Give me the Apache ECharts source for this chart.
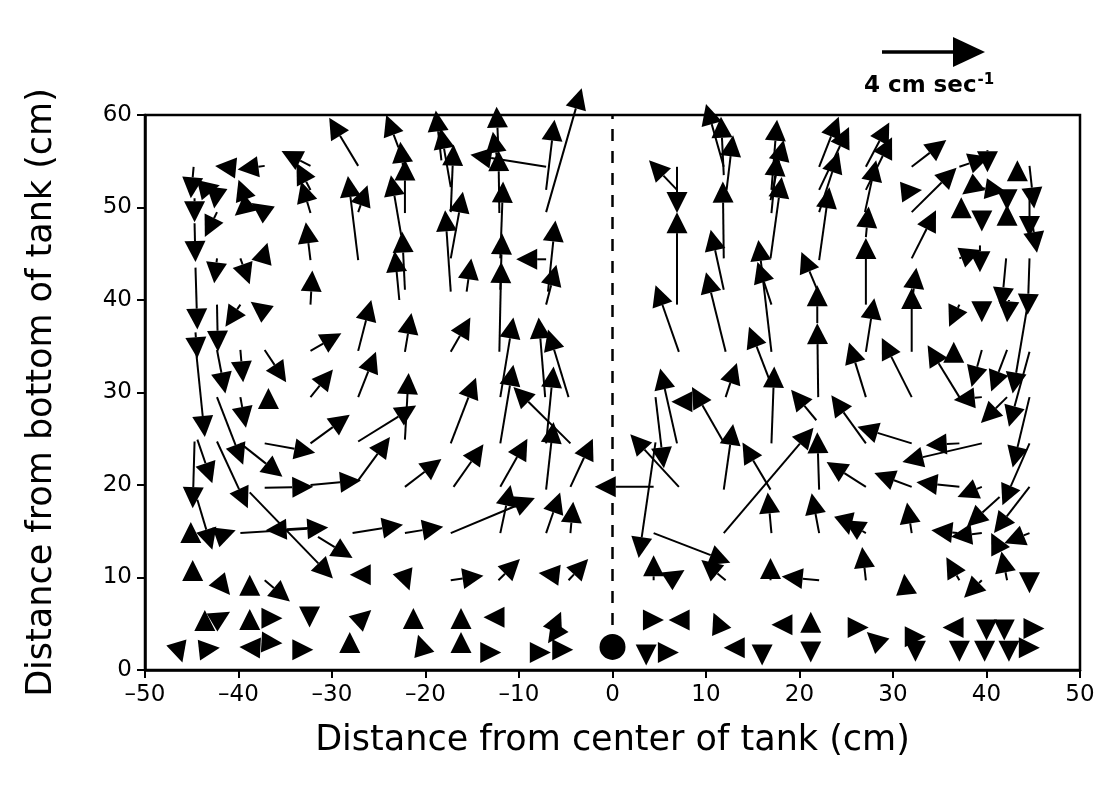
<!DOCTYPE html>
<html><head><meta charset="utf-8">
<script src="https://cdn.jsdelivr.net/npm/echarts@6/dist/echarts.min.js"></script>
<style>html,body{margin:0;padding:0;background:#fff}#c{width:1101px;height:787px}</style>
</head><body><div id="c"></div>
<script>
// Each vector: [tailX, tailY, tipX, tipY] in cm (axis units)
const xTicks = [-50,-40,-30,-20,-10,0,10,20,30,40,50];
const yTicks = [0,10,20,30,40,50,60];
const centerDot = [0, 2.5];
const dashedLine = [[0, 2.5], [0, 60]];
const legendLabel = '4 cm sec';

const vecTopLeft = [
 [-27.2,54.5,-30.3,59.7],[-32.3,54.5,-35.4,56.1],[-32.3,51.9,-33.8,54.8],[-32.3,49.4,-33.3,52.8],
 [-32.3,44.3,-32.8,48.4],[-27.2,44.3,-28.3,53.4],[-27.2,49.5,-26.2,52.4],[-44.8,54.4,-45.1,51.0],
 [-44.7,51.0,-44.7,48.4],[-44.7,48.3,-44.6,44.1],[-44.1,51.9,-42.0,52.4],[-40.5,54.3,-42.5,54.5],
 [-37.2,54.5,-40.1,54.1],[-39.2,50.8,-40.0,53.0],[-42.3,52.1,-42.6,49.9],[-37.2,49.5,-38.6,50.5],
 [-39.0,50.3,-40.4,49.1],[-42.3,49.5,-43.6,46.8],[-37.4,44.5,-36.9,46.2],[-42.3,44.5,-42.6,41.8],
 [-39.8,44.5,-38.8,41.7],
 [-22.9,56.5,-24.2,60.0],[-22.2,49.4,-22.2,55.2],[-22.4,54.4,-22.7,57.1],[-22.6,47.0,-23.7,53.5],
 [-22.2,41.1,-22.5,47.4],[-22.8,40.0,-23.3,45.3],[-18.3,55.1,-18.9,60.5],[-17.3,52.2,-18.4,58.6],
 [-17.3,49.5,-17.0,56.8],[-17.3,44.5,-16.0,51.7],[-17.3,40.9,-17.9,49.7],[-15.6,40.9,-15.1,44.5],
 [-12.2,56.2,-12.4,60.9],[-12.2,54.4,-12.8,58.2],[-7.1,54.4,-15.2,55.7],[-12.1,49.4,-12.2,56.2],
 [-12.0,44.5,-11.7,52.8],[-12.0,41.1,-11.8,47.2],[-12.1,34.4,-11.9,44.1],[-7.1,44.4,-10.3,44.4],
 [-7.1,51.9,-6.2,59.5],[-7.1,49.5,-3.3,62.9],[-6.9,40.9,-6.1,48.6],[-7.1,39.5,-6.0,43.8]
];
const vecTopRight = [
 [6.9,51.9,3.9,55.1],[6.9,54.4,6.9,49.4],[6.9,39.5,6.9,49.5],[11.9,54.4,10.0,61.2],
 [11.9,53.5,11.6,59.8],[12.2,51.9,12.9,57.8],[11.9,44.5,11.8,52.8],[11.9,41.1,10.5,47.6],
 [12.1,34.4,10.0,43.0],[17.0,51.9,17.6,59.5],[16.9,50.8,18.3,57.3],[17.0,49.4,17.6,55.7],
 [16.9,44.5,18.1,53.3],[17.0,34.4,15.6,46.5],[17.0,39.5,15.5,44.1],[22.1,54.4,24.2,59.8],
 [22.1,51.9,25.3,58.7],[22.1,49.5,24.2,56.0],[22.1,44.3,23.2,52.2],[21.9,41.1,20.2,45.2],
 [27.1,54.4,29.6,59.2],[27.1,51.9,29.9,57.6],[27.0,49.5,28.2,55.1],[27.1,46.8,27.4,50.1],
 [27.1,39.5,27.1,46.7],[32.0,54.4,35.7,57.3],[31.2,51.7,33.1,51.9],[32.0,49.5,36.8,54.3],
 [32.0,44.5,34.6,49.7],[32.0,39.5,32.5,43.5],[37.1,54.4,40.3,55.5],[40.1,56.2,40.1,53.8],
 [43.3,53.2,43.3,55.1],[44.6,54.5,45.1,49.9],[38.7,52.4,37.4,51.4],[37.3,49.5,37.3,51.1],
 [39.5,52.1,42.1,51.7],[42.2,51.4,42.2,49.7],[42.2,48.4,42.2,50.3],[44.6,51.6,44.6,46.8],
 [44.8,49.0,45.4,45.1],[39.5,49.5,39.5,47.4],[37.1,44.5,39.4,45.4],[39.3,45.9,39.3,43.0]
];
const vecMidLeft = [
 [-44.6,43.5,-44.4,36.8],[-44.6,36.5,-44.4,33.7],[-42.3,39.5,-42.2,34.4],[-39.8,39.5,-41.4,37.1],
 [-37.1,38.6,-38.7,39.8],[-32.3,39.5,-32.1,43.2],[-42.3,34.6,-41.4,29.9],[-39.8,34.6,-39.5,31.1],
 [-37.2,34.6,-34.9,31.1],[-36.8,29.0,-36.8,30.5],[-32.3,34.5,-29.0,36.4],[-32.3,29.5,-29.9,32.5],
 [-27.2,34.5,-25.8,40.0],[-27.2,29.5,-25.3,34.4],[-44.6,35.1,-43.6,25.2],[-39.8,29.5,-39.2,26.2],
 [-42.3,29.5,-39.5,22.2],[-44.4,24.9,-42.8,20.2],[-42.3,24.7,-39.0,17.5],[-39.8,24.5,-35.3,20.9],
 [-37.2,24.5,-31.8,23.5],[-32.3,24.5,-28.1,27.6],[-37.2,19.7,-32.0,19.8],[-32.3,20.0,-26.9,20.5],
 [-27.2,20.5,-23.8,25.2],[-22.2,34.4,-21.5,38.6],[-22.2,24.9,-21.8,32.1],[-27.2,24.7,-21.0,28.6],
 [-17.3,34.4,-15.2,38.1],[-12.0,29.5,-10.6,38.1],[-7.2,29.5,-7.9,38.1],[-4.7,29.5,-6.9,36.8],
 [-12.0,24.5,-10.6,33.0],[-17.3,24.5,-14.6,31.6],[-7.1,24.5,-6.3,32.8],[-4.5,24.5,-10.6,30.6],
 [-7.1,19.5,-6.3,26.8],[-22.2,19.8,-18.3,22.8],[-17.0,19.8,-13.8,24.4],[-12.0,19.8,-9.1,25.0],
 [-4.5,19.8,-2.1,25.0],[4.4,19.8,-1.9,19.8]
];
const vecMidRight = [
 [7.1,34.4,4.6,41.6],[21.9,37.5,21.9,41.6],[22.0,29.5,21.9,37.5],[17.0,30.8,14.6,37.1],
 [17.0,24.5,17.3,32.8],[12.1,29.5,13.3,33.2],[6.9,24.5,5.1,32.6],[8.1,29.0,6.3,29.0],
 [11.9,24.6,8.5,30.6],[21.8,27.0,19.1,30.3],[11.9,14.8,21.5,26.2],[22.1,19.5,21.9,25.7],
 [27.1,19.8,22.9,22.5],[27.1,24.5,23.4,29.7],[11.9,19.5,12.9,26.6],[16.9,19.5,13.9,24.6],
 [7.1,19.8,1.9,25.5],[4.6,29.5,5.5,21.8],[4.6,24.6,2.8,12.1],
 [27.1,34.4,28.0,40.2],[32.0,34.4,32.0,41.3],[27.1,29.5,25.3,35.4],[32.0,29.5,28.8,35.9],
 [37.1,29.5,33.7,35.1],[36.5,33.3,36.5,35.5],[37.1,39.5,36.0,37.1],[39.5,39.5,39.5,37.6],
 [42.1,44.5,41.6,39.1],[42.4,40.0,42.2,37.6],[44.6,44.5,44.4,38.4],[39.5,34.6,38.4,30.6],
 [42.2,34.6,40.5,30.1],[44.4,39.5,42.8,29.9],[39.5,29.5,36.5,29.2],[42.2,29.5,39.4,26.7],
 [44.6,34.4,42.4,26.3],[44.6,29.5,42.8,21.9],[32.0,24.5,26.2,26.3],[37.1,24.5,33.5,24.3],
 [39.5,24.5,31.0,22.5],[32.0,19.8,28.0,21.3],[37.1,19.8,32.5,20.3]
];
const vecBottomLeft = [
 [-44.7,24.7,-44.9,17.5],[-44.4,18.4,-42.8,13.0],[-41.7,14.6,-40.3,15.1],[-45.1,14.1,-45.1,16.0],
 [-31.7,15.4,-37.1,15.1],[-39.8,14.8,-30.4,15.4],[-31.5,14.4,-27.8,12.1],[-38.8,19.2,-29.9,9.9],
 [-26.2,10.3,-28.1,10.3],[-44.9,9.9,-44.9,11.9],[-42.2,9.7,-40.9,8.1],[-38.8,8.4,-38.8,10.3],
 [-37.2,9.7,-34.5,7.4],[-43.6,4.5,-43.6,6.5],[-42.4,5.4,-40.9,6.3],[-38.8,4.6,-38.8,6.6],
 [-36.9,5.6,-35.3,5.6],[-32.4,6.5,-32.4,4.6],[-27.2,5.2,-25.8,6.5],[-46.5,2.5,-46.0,0.8],
 [-43.8,2.2,-42.0,2.4],[-37.9,2.4,-39.9,2.5],[-37.1,3.0,-35.3,2.9],[-33.9,2.2,-32.0,2.2],
 [-28.1,2.2,-28.1,4.1],
 [-27.8,14.8,-22.4,15.7],[-22.2,14.8,-18.1,15.5],[-17.3,14.8,-8.3,18.6],[-12.0,14.8,-10.9,20.0],
 [-7.1,14.8,-5.6,19.2],[-4.5,14.8,-4.2,18.2],[-22.4,10.6,-21.7,8.6],[-17.3,9.7,-13.8,10.2],
 [-12.2,9.7,-9.9,12.0],[-6.2,10.3,-7.9,10.5],[-4.7,9.7,-2.6,12.0],[-21.3,4.8,-21.3,6.7],
 [-16.2,4.8,-16.2,6.7],[-11.9,5.7,-13.8,5.7],[-6.3,4.5,-5.5,6.3],[-5.8,4.5,-6.9,2.9],
 [-20.3,2.2,-20.8,3.8],[-16.2,2.2,-16.2,4.1],[-13.8,1.9,-11.9,1.9],[-8.5,1.9,-6.6,1.9],
 [-6.0,2.2,-4.2,2.2]
];
const vecBottomRight = [
 [4.4,14.8,12.6,11.6],[12.1,9.7,9.5,11.9],[4.4,9.7,4.4,12.4],[6.0,9.7,7.7,10.8],
 [17.0,14.8,16.6,19.2],[22.1,14.8,21.3,19.1],[24.8,16.8,25.3,14.6],[16.9,9.7,16.9,12.1],
 [22.1,9.7,18.1,10.1],[3.9,5.4,5.5,5.4],[7.6,5.4,6.0,5.4],[11.6,4.3,10.8,6.2],
 [18.9,4.9,17.0,4.9],[21.2,4.3,21.2,6.3],[3.6,2.2,3.6,0.5],[5.5,1.9,7.1,1.9],
 [13.5,2.4,11.9,2.4],[16.0,2.4,16.0,0.5],[21.2,2.7,21.2,0.8],
 [27.1,14.8,24.8,16.2],[32.0,14.8,31.5,18.1],[36.9,14.8,34.1,15.1],[39.5,14.8,36.2,14.4],
 [39.5,19.8,36.9,18.7],[44.6,24.5,41.7,17.8],[41.4,18.7,37.9,15.5],[44.6,19.8,40.8,14.8],
 [41.4,13.0,40.5,14.8],[44.6,14.8,41.9,13.7],[42.2,9.7,41.6,12.8],[27.1,9.7,26.7,13.3],
 [31.4,8.6,31.2,10.4],[37.1,9.7,35.7,12.2],[39.5,9.7,37.6,7.8],[44.6,10.3,44.6,8.3],
 [25.8,4.6,27.4,4.6],[28.7,2.7,27.2,4.1],[31.9,3.6,33.5,3.6],[32.4,2.7,32.4,0.9],
 [36.9,4.6,35.3,4.6],[40.0,5.1,40.0,3.2],[41.9,5.1,41.9,3.2],[44.6,4.5,46.2,4.5],
 [37.1,2.7,37.1,0.9],[39.8,2.7,39.8,0.9],[42.4,2.7,42.4,0.9],[44.1,2.4,45.7,2.4]
];

const vectors = [].concat(vecTopLeft, vecTopRight, vecMidLeft, vecMidRight, vecBottomLeft, vecBottomRight);

const FONT = 'DejaVu Sans';
const chart = echarts.init(document.getElementById('c'), null, {renderer: 'canvas'});

function renderArrow(params, api) {
  const p0 = api.coord([api.value(0), api.value(1)]);
  const p1 = api.coord([api.value(2), api.value(3)]);
  const dx = p1[0] - p0[0], dy = p1[1] - p0[1];
  const len = Math.hypot(dx, dy) || 1;
  const ux = dx / len, uy = dy / len;
  const H = 21, W = 10.5;
  const bx = p1[0] - ux * H, by = p1[1] - uy * H;
  const children = [];
  if (len > H) {
    children.push({type: 'line', shape: {x1: p0[0], y1: p0[1], x2: bx, y2: by},
      style: {stroke: '#000', lineWidth: 2}});
  }
  children.push({type: 'polygon',
    shape: {points: [[p1[0], p1[1]], [bx - uy * W, by + ux * W], [bx + uy * W, by - ux * W]]},
    style: {fill: '#000'}});
  return {type: 'group', children: children};
}

const option = {
  backgroundColor: '#fff',
  animation: false,
  grid: {left: 145, top: 115, width: 935, height: 555, show: true, borderColor: '#000', borderWidth: 2.5, containLabel: false},
  xAxis: {
    type: 'value', min: -50, max: 50, interval: 10,
    name: 'Distance from center of tank (cm)', nameLocation: 'middle', nameGap: 53,
    nameTextStyle: {fontFamily: FONT, fontSize: 35, color: '#000'},
    axisLine: {show: true, onZero: false, lineStyle: {color: '#000', width: 2.5}},
    axisTick: {show: true, inside: false, length: 8, lineStyle: {color: '#000', width: 2}},
    axisLabel: {fontFamily: FONT, fontSize: 23, color: '#000', margin: 14,
      formatter: v => (v < 0 ? '\u2013' + Math.abs(v) : String(v))},
    splitLine: {show: false}
  },
  yAxis: {
    type: 'value', min: 0, max: 60, interval: 10,
    name: 'Distance from bottom of tank (cm)', nameLocation: 'middle', nameGap: 86,
    nameTextStyle: {fontFamily: FONT, fontSize: 35, color: '#000'},
    axisLine: {show: true, onZero: false, lineStyle: {color: '#000', width: 2.5}},
    axisTick: {show: true, inside: false, length: 8, lineStyle: {color: '#000', width: 2}},
    axisLabel: {fontFamily: FONT, fontSize: 23, color: '#000', margin: 13},
    splitLine: {show: false}
  },
  series: [
    {
      type: 'line', data: dashedLine, symbol: 'none', silent: true,
      lineStyle: {color: '#000', width: 2.5, type: [12, 10]}, z: 1
    },
    {
      type: 'custom', renderItem: renderArrow, data: vectors, clip: false,
      encode: {x: [0, 2], y: [1, 3]}, z: 3
    },
    {
      type: 'scatter', data: [centerDot], symbol: 'circle', symbolSize: 26,
      itemStyle: {color: '#000', opacity: 1}, z: 4
    }
  ],
  graphic: [
    {type: 'line', shape: {x1: 882, y1: 52, x2: 958, y2: 52}, style: {stroke: '#000', lineWidth: 3.5}},
    {type: 'polygon', shape: {points: [[985, 52], [953, 37], [953, 67]]}, style: {fill: '#000'}},
    {type: 'text', left: 864, top: 73, style: {
      text: '{a|' + legendLabel + '}{b|-1}',
      rich: {
        a: {fontFamily: FONT, fontSize: 23, fontWeight: 'bold', fill: '#000', color: '#000'},
        b: {fontFamily: FONT, fontSize: 15, fontWeight: 'bold', fill: '#000', color: '#000', verticalAlign: 'top', padding: [0,0,12,1]}
      }
    }}
  ]
};
chart.setOption(option);
</script>
</body></html>
